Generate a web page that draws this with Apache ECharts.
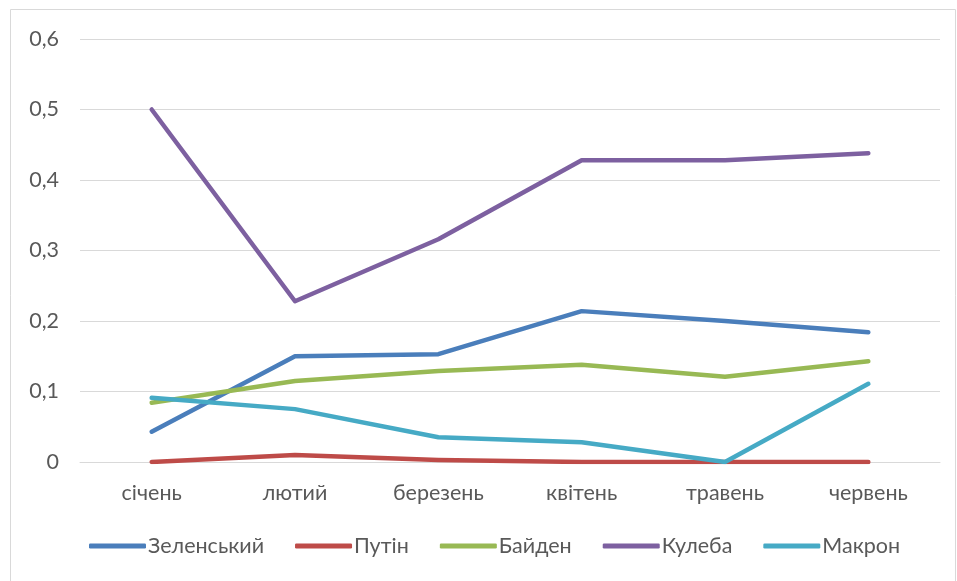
<!DOCTYPE html>
<html><head><meta charset="utf-8">
<script src="https://cdn.jsdelivr.net/npm/echarts@6/dist/echarts.min.js"></script>
<style>html,body{margin:0;padding:0;background:#fff}#c{width:957px;height:581px}</style>
</head><body><div id="c"></div>
<script>
const categories = ['січень','лютий','березень','квітень','травень','червень'];
const zelenskyi = [0.043, 0.150, 0.153, 0.214, 0.200, 0.184];
const putin = [0.000, 0.010, 0.003, 0.000, 0.000, 0.000];
const biden = [0.084, 0.115, 0.129, 0.138, 0.121, 0.143];
const kuleba = [0.500, 0.228, 0.316, 0.428, 0.428, 0.438];
const macron = [0.091, 0.075, 0.035, 0.028, 0.000, 0.111];
const seriesNames = ['Зеленський','Путін','Байден','Кулеба','Макрон'];
const seriesData = [zelenskyi, putin, biden, kuleba, macron];
const colors = ['#4a7ebb','#be4b48','#98b954','#7d60a0','#46aac5'];
const FONT = 'Lato';
const chart = echarts.init(document.getElementById('c'), null, {renderer:'canvas'});
chart.setOption({
  animation:false,
  color: colors,
  textStyle:{fontFamily:FONT},
  graphic:[{type:'rect',shape:{x:10.5,y:9.5,width:945,height:600},style:{fill:'none',stroke:'#d9d9d9',lineWidth:1},silent:true,z:-1}],
  grid:{left:80,right:17,top:39,bottom:119},
  legend:{
    data: seriesNames, left:84, top:530, itemWidth:57, itemHeight:5, itemGap:31,
    icon:'roundRect',
    textStyle:{fontFamily:FONT,fontSize:21.5,color:'#595959',padding:[0,0,0,-3]}
  },
  xAxis:{
    type:'category', data:categories, boundaryGap:true,
    axisLine:{lineStyle:{color:'#d9d9d9'}}, axisTick:{show:false},
    axisLabel:{fontFamily:FONT,fontSize:21.5,color:'#595959',margin:20}
  },
  yAxis:{
    type:'value', min:0, max:0.6, interval:0.1,
    axisLine:{show:false}, axisTick:{show:false},
    splitLine:{lineStyle:{color:'#d9d9d9',width:1}},
    axisLabel:{fontFamily:FONT,fontSize:21.5,color:'#595959',margin:21,
      formatter:v=> v===0?'0':v.toFixed(1).replace('.',',')}
  },
  series: seriesNames.map((n,i)=>({
    name:n, type:'line', data:seriesData[i], symbol:'none', showSymbol:false,
    lineStyle:{width:4.5,cap:'round',join:'round'}, itemStyle:{color:colors[i]}
  }))
});
</script></body></html>
